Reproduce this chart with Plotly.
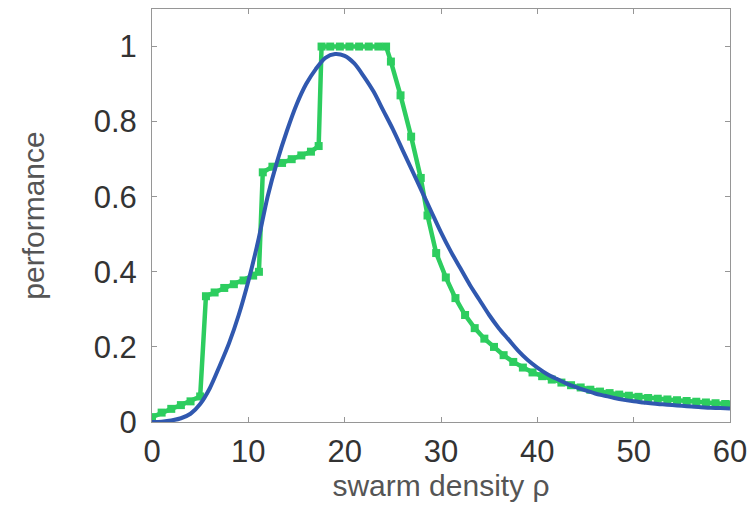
import plotly.graph_objects as go

# Simulation results (green, with markers)
green_x = [0, 1, 2, 3, 4, 5, 5.6, 6.5, 7.5, 8.5, 9.5, 10.5, 11.1, 11.5, 12.5, 13.5, 14.5,
           15.5, 16.5, 17.3, 17.6, 18.5, 19.5, 20.5, 21.5, 22.5, 23.5, 24.3, 24.8, 25.8,
           26.9, 27.9, 28.6, 29.5, 30.5, 31.5, 32.5, 33.5, 34.5, 35.5, 36.5, 37.5, 38.5,
           39.5, 40.5, 41.5, 42.5, 43.5, 44.5, 45.5, 46.5, 47.5, 48.5, 49.5, 50.5, 51.5,
           52.5, 53.5, 54.5, 55.5, 56.5, 57.5, 58.5, 59.5, 60]
green_y = [0.013, 0.025, 0.035, 0.045, 0.055, 0.068, 0.335, 0.345, 0.357, 0.367, 0.377,
           0.39, 0.40, 0.665, 0.68, 0.69, 0.70, 0.71, 0.72, 0.735, 1.0, 1.0, 1.0, 1.0, 1.0,
           1.0, 1.0, 1.0, 0.96, 0.87, 0.76, 0.65, 0.55, 0.45, 0.385, 0.33, 0.285, 0.25,
           0.222, 0.2, 0.178, 0.16, 0.145, 0.132, 0.122, 0.113, 0.105, 0.098, 0.092, 0.086,
           0.081, 0.077, 0.073, 0.07, 0.067, 0.064, 0.062, 0.06, 0.058, 0.056, 0.054,
           0.052, 0.05, 0.048, 0.047]

# Model curve (blue, smooth)
blue_x = list(range(0, 61))
blue_y = [0.0, 0.001, 0.004, 0.01, 0.022, 0.048, 0.09, 0.148, 0.21, 0.285, 0.375, 0.48, 0.6,
          0.695, 0.775, 0.845, 0.9, 0.94, 0.97, 0.98, 0.975, 0.955, 0.92, 0.88, 0.83, 0.78,
          0.725, 0.67, 0.615, 0.56, 0.505, 0.455, 0.41, 0.365, 0.325, 0.285, 0.25, 0.22,
          0.19, 0.165, 0.145, 0.128, 0.115, 0.103, 0.093, 0.084, 0.076, 0.07, 0.064,
          0.059, 0.055, 0.052, 0.049, 0.047, 0.045, 0.043, 0.041, 0.039, 0.038, 0.037,
          0.036]

x_ticks = [0, 10, 20, 30, 40, 50, 60]
y_ticks = [0, 0.2, 0.4, 0.6, 0.8, 1]
y_tick_labels = ["0", "0.2", "0.4", "0.6", "0.8", "1"]

GREEN = "rgb(45,205,95)"
BLUE = "rgb(48,88,175)"
FRAME = "rgb(150,150,150)"
FONT = "Liberation Sans, Arial, sans-serif"

fig = go.Figure()
fig.add_trace(go.Scatter(
    x=green_x, y=green_y, mode="lines+markers",
    line=dict(color=GREEN, width=4.5),
    marker=dict(color=GREEN, size=8, symbol="square"),
    showlegend=False))
fig.add_trace(go.Scatter(
    x=blue_x, y=blue_y, mode="lines",
    line=dict(color=BLUE, width=4, shape="spline", smoothing=0.8),
    showlegend=False))

axis_common = dict(
    showgrid=False, zeroline=False, showline=True, linecolor=FRAME, linewidth=1,
    mirror="ticks", ticks="inside", ticklen=5, tickcolor=FRAME,
    tickfont=dict(family=FONT, size=31, color="#333333"),
)
fig.update_xaxes(range=[0, 60], tickvals=x_ticks, ticktext=[str(t) for t in x_ticks],
                 title=dict(text="swarm density ρ", font=dict(family=FONT, size=30, color="#555555"),
                            standoff=1),
                 ticklabelstandoff=2, **axis_common)
fig.update_yaxes(range=[0, 1.1], tickvals=y_ticks, ticktext=y_tick_labels,
                 title=dict(text="performance", font=dict(family=FONT, size=30, color="#555555"),
                            standoff=40),
                 ticklabelstandoff=8, **axis_common)

fig.update_layout(
    width=755, height=519,
    margin=dict(l=152, r=18, t=8, b=97),
    paper_bgcolor="white", plot_bgcolor="white",
)

fig.write_html("out.html", config={"displayModeBar": False},
               post_script="document.body.style.margin='0';")
